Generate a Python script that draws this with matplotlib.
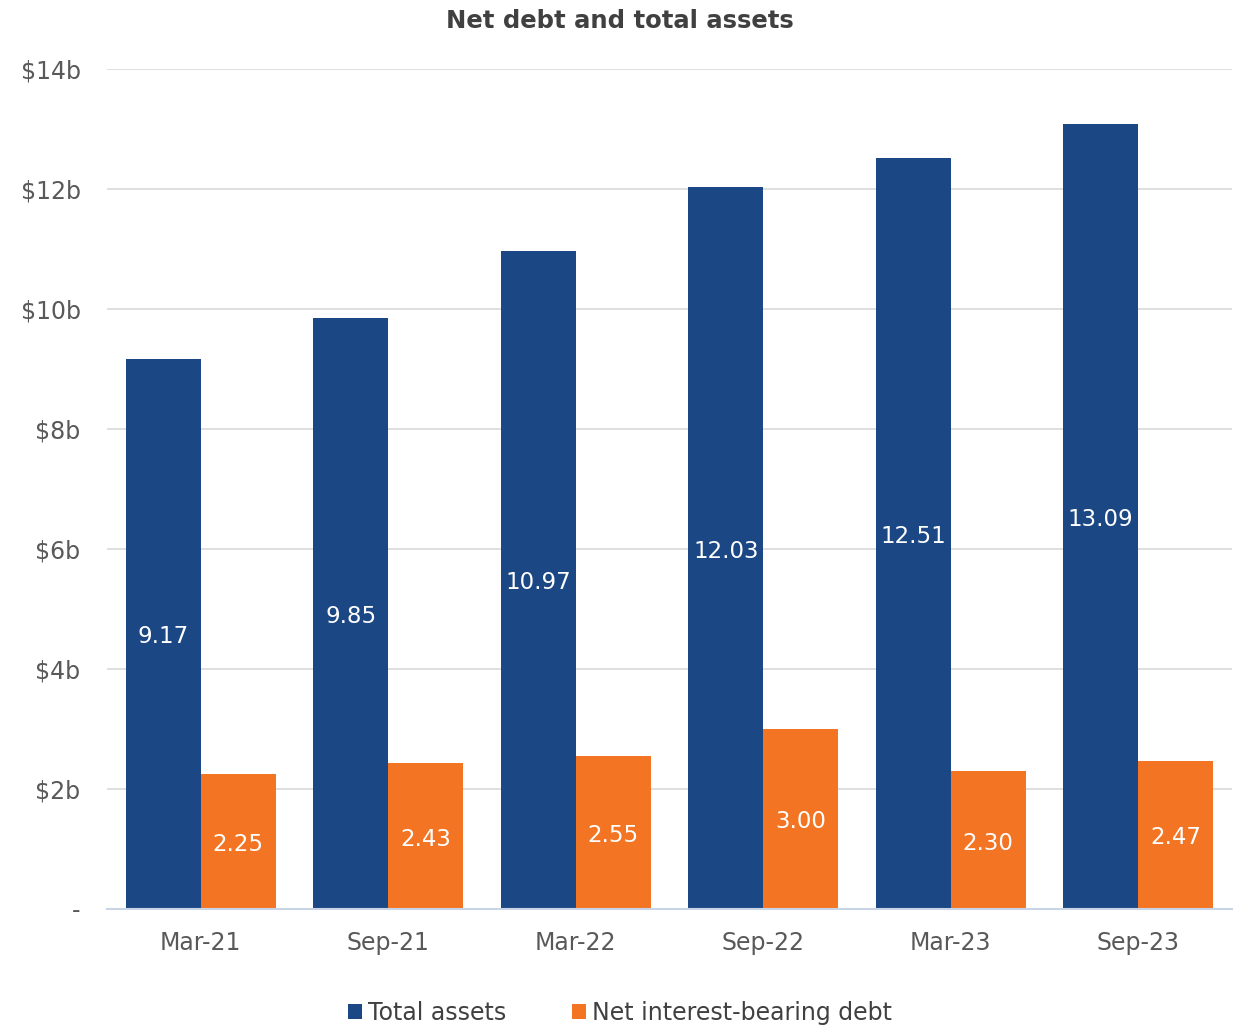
import matplotlib.pyplot as plt
import numpy as np

periods = ["Mar-21", "Sep-21", "Mar-22", "Sep-22", "Mar-23", "Sep-23"]
total_assets = [9.17, 9.85, 10.97, 12.03, 12.51, 13.09]
net_debt = [2.25, 2.43, 2.55, 3.00, 2.30, 2.47]
y_ticks = [0, 2, 4, 6, 8, 10, 12, 14]
y_tick_labels = ["-", "$2b", "$4b", "$6b", "$8b", "$10b", "$12b", "$14b"]

blue = "#1B4784"
orange = "#F37423"
grey = "#595959"
dark = "#404040"

plt.rcParams["font.family"] = ["DejaVu Sans"]

fig = plt.figure(figsize=(12.4, 10.29), dpi=100)
ax = fig.add_axes([107 / 1240, 1 - 909 / 1029, 1125 / 1240, 840 / 1029])

x = np.arange(len(periods))
width = 0.4
bars_a = ax.bar(x - width / 2, total_assets, width, color=blue, label="Total assets", zorder=3)
bars_d = ax.bar(x + width / 2, net_debt, width, color=orange, label="Net interest-bearing debt", zorder=3)

for bars, vals in ((bars_a, total_assets), (bars_d, net_debt)):
    for b, v in zip(bars, vals):
        ax.text(b.get_x() + b.get_width() / 2, v / 2 - 0.05, f"{v:.2f}", ha="center", va="center",
                color="white", fontsize=16.5)

ax.set_xlim(-0.5, len(periods) - 0.5)
ax.set_ylim(0, 14)
ax.set_yticks(y_ticks)
ax.set_yticklabels(y_tick_labels)
ax.set_xticks(x)
ax.set_xticklabels(periods)
ax.tick_params(axis="both", length=0, labelsize=17, colors=grey)
ax.tick_params(axis="y", pad=19)
ax.tick_params(axis="x", pad=16)
ax.grid(axis="y", color="#D9D9D9", linewidth=1.2, zorder=0)
for side in ("top", "right", "left"):
    ax.spines[side].set_visible(False)
ax.spines["bottom"].set_color("#C9D5E6")
ax.spines["bottom"].set_linewidth(1.5)
ax.spines["bottom"].set_zorder(4)

fig.text(0.5, 1 - 21 / 1029, "Net debt and total assets", ha="center", va="center",
         fontsize=17.5, fontweight="bold", color=dark)

fig.legend(loc="center", bbox_to_anchor=(0.5, 1 - 1013 / 1029), ncol=2, frameon=False,
           fontsize=17, handlelength=0.6, handleheight=0.6, handletextpad=0.25,
           columnspacing=2.8, labelcolor=dark)

fig.savefig("out.png", dpi=100)
